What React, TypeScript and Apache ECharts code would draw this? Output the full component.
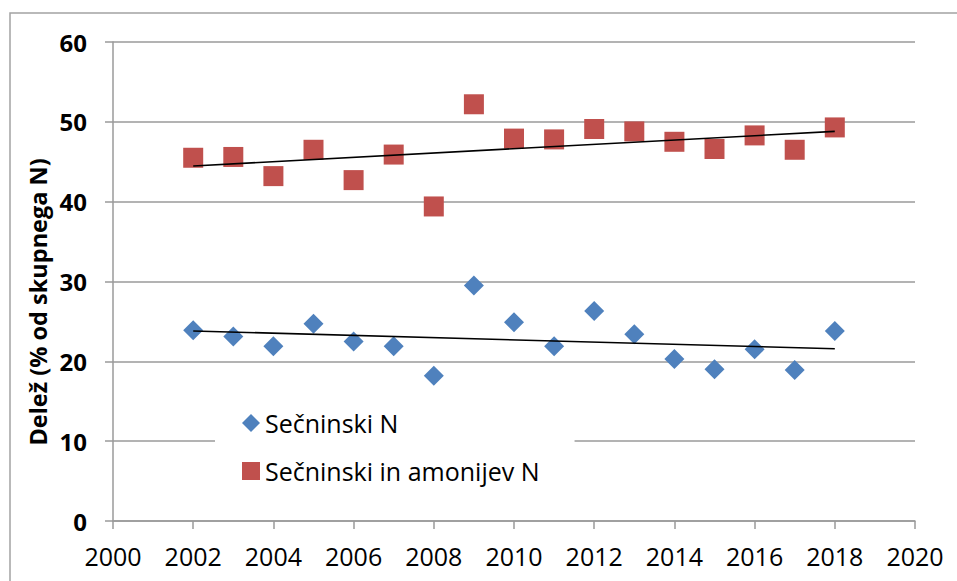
import React, { useEffect, useRef } from "react";
import * as echarts from "echarts";

const years = [2002, 2003, 2004, 2005, 2006, 2007, 2008, 2009, 2010, 2011, 2012, 2013, 2014, 2015, 2016, 2017, 2018];
const secninskiN = [23.9, 23.1, 21.9, 24.7, 22.5, 21.9, 18.2, 29.5, 24.9, 21.9, 26.3, 23.4, 20.3, 19.0, 21.5, 18.9, 23.8];
const secninskiAmonijevN = [45.5, 45.6, 43.2, 46.5, 42.7, 45.9, 39.4, 52.2, 47.9, 47.8, 49.1, 48.8, 47.5, 46.6, 48.3, 46.5, 49.3];
const seriesNames = ["Sečninski N", "Sečninski in amonijev N"];
const yTitle = "Delež (% od skupnega N)";

function trend(xs: number[], ys: number[]): number[][] {
  const n = xs.length;
  const mx = xs.reduce((a, b) => a + b, 0) / n;
  const my = ys.reduce((a, b) => a + b, 0) / n;
  let sxy = 0, sxx = 0;
  for (let i = 0; i < n; i++) {
    sxy += (xs[i] - mx) * (ys[i] - my);
    sxx += (xs[i] - mx) * (xs[i] - mx);
  }
  const b = sxy / sxx;
  const a = my - b * mx;
  const x0 = xs[0], x1 = xs[n - 1];
  return [[x0, a + b * x0], [x1, a + b * x1]];
}

const FONT = "Open Sans";

export default function App() {
  const ref = useRef<HTMLDivElement>(null);
  useEffect(() => {
    if (!ref.current) return;
    const chart = echarts.init(ref.current, undefined, { renderer: "svg" });
    const gray = "#9a9a9a";
    chart.setOption({
      animation: false,
      backgroundColor: "#ffffff",
      textStyle: { fontFamily: FONT },
      grid: { left: 113, top: 42, width: 802, height: 479, containLabel: false },
      xAxis: {
        type: "value",
        min: 2000,
        max: 2020,
        interval: 2,
        axisLine: { show: true, lineStyle: { color: gray, width: 1.5 } },
        axisTick: { show: true, length: 8, lineStyle: { color: gray, width: 1.5 } },
        splitLine: { show: false },
        axisLabel: {
          formatter: (v: number) => String(v),
          fontSize: 25,
          color: "#000",
          margin: 22,
          fontFamily: FONT,
        },
      },
      yAxis: {
        type: "value",
        min: 0,
        max: 60,
        interval: 10,
        axisLine: { show: true, lineStyle: { color: gray, width: 1.5 } },
        axisTick: { show: true, length: 8, lineStyle: { color: gray, width: 1.5 } },
        splitLine: { show: true, lineStyle: { color: gray, width: 1.5 } },
        axisLabel: {
          fontSize: 24,
          fontWeight: "bold",
          color: "#000",
          margin: 26,
          fontFamily: FONT,
        },
      },
      legend: {
        orient: "vertical",
        left: 215,
        top: 398,
        data: [
          { name: seriesNames[0], icon: "diamond" },
          { name: seriesNames[1], icon: "rect" },
        ],
        backgroundColor: "#ffffff",
        padding: [12, 35, 12, 27],
        itemWidth: 18,
        itemHeight: 18,
        itemGap: 22,
        textStyle: { fontSize: 25, color: "#000", fontFamily: FONT, lineHeight: 26 },
      },
      graphic: [
        {
          type: "rect",
          shape: { x: 10, y: 13, width: 1000, height: 1000 },
          style: { fill: "none", stroke: "#a3a3a3", lineWidth: 1.5 },
          silent: true,
        },
        {
          type: "text",
          x: 38,
          y: 302,
          rotation: Math.PI / 2,
          style: {
            text: yTitle,
            fontSize: 23.5,
            fontWeight: "bold",
            fontFamily: FONT,
            fill: "#000",
            align: "center",
            verticalAlign: "middle",
          },
        },
      ],
      series: [
        {
          name: seriesNames[0],
          type: "scatter",
          symbol: "diamond",
          symbolSize: 20,
          itemStyle: { color: "#4f81bd", opacity: 1 },
          data: years.map((y, i) => [y, secninskiN[i]]),
          z: 3,
        },
        {
          name: seriesNames[1],
          type: "scatter",
          symbol: "rect",
          symbolSize: 20,
          itemStyle: { color: "#c0504d", opacity: 1 },
          data: years.map((y, i) => [y, secninskiAmonijevN[i]]),
          z: 3,
        },
        {
          name: "trend1",
          type: "line",
          data: trend(years, secninskiN),
          symbol: "none",
          lineStyle: { color: "#000", width: 1.6 },
          z: 4,
        },
        {
          name: "trend2",
          type: "line",
          data: trend(years, secninskiAmonijevN),
          symbol: "none",
          lineStyle: { color: "#000", width: 1.6 },
          z: 4,
        },
      ],
    });
    return () => chart.dispose();
  }, []);
  return (
    <div
      ref={ref}
      style={{ position: "absolute", left: 0, top: 0, width: 957, height: 581 }}
    />
  );
}
